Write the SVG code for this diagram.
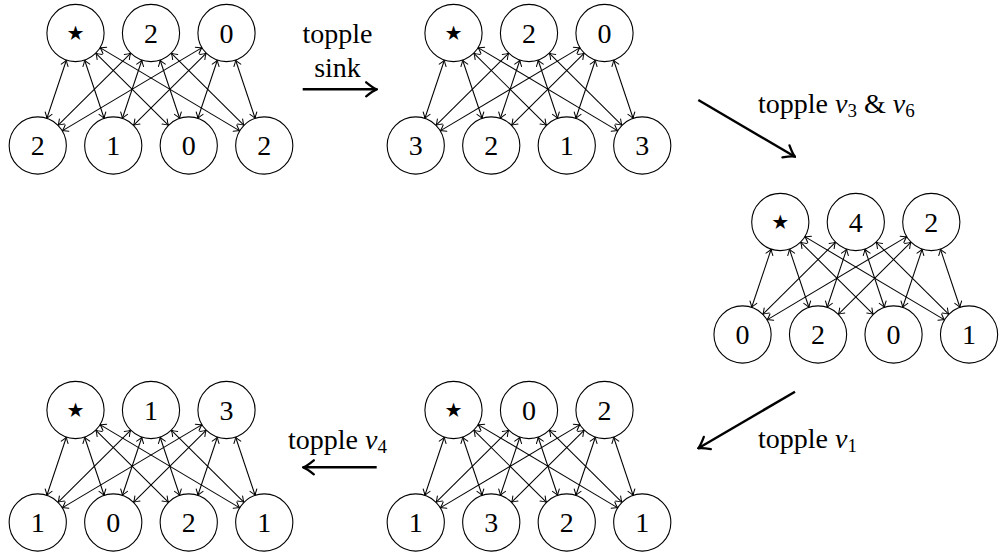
<svg xmlns="http://www.w3.org/2000/svg" xmlns:xlink="http://www.w3.org/1999/xlink" width="1004" height="557" viewBox="0 0 1004 557">
<style>
.node circle{fill:#fff;stroke:#000;stroke-width:1.1}
.node text{font-family:"Liberation Serif",serif;font-size:28px;text-anchor:middle}
.node text.star{font-family:"DejaVu Sans",sans-serif;font-size:40px}
.edge{stroke:#000;stroke-width:1.05;fill:none;marker-start:url(#a);marker-end:url(#a)}
.big{stroke:#000;stroke-width:2.4;fill:none;marker-end:url(#b)}
.lbl{font-family:"Liberation Serif",serif;font-size:28px}
.sub{font-size:19px}
.it{font-style:italic}
</style>
<defs>
<marker id="a" viewBox="-7 -5 8 10" refX="0" refY="0" markerWidth="8" markerHeight="10" markerUnits="userSpaceOnUse" orient="auto-start-reverse">
<path d="M-5.6,-3.6 Q-1.9,-0.7 0,0 Q-1.9,0.7 -5.6,3.6" fill="none" stroke="#000" stroke-width="1" stroke-linecap="round"/>
</marker>
<marker id="b" viewBox="-13 -9 14 18" refX="0" refY="0" markerWidth="14" markerHeight="18" markerUnits="userSpaceOnUse" orient="auto">
<path d="M-10.5,-7 Q-3.6,-1.3 0,0 Q-3.6,1.3 -10.5,7" fill="none" stroke="#000" stroke-width="2.3" stroke-linecap="round"/>
</marker>
<g id="k34">
<line class="edge" x1="66.43" y1="60.02" x2="46.82" y2="118.48"/>
<line class="edge" x1="84.57" y1="60.02" x2="104.18" y2="118.48"/>
<line class="edge" x1="95.72" y1="53.09" x2="168.53" y2="125.41"/>
<line class="edge" x1="99.98" y1="47.59" x2="239.77" y2="130.91"/>
<line class="edge" x1="130.78" y1="53.09" x2="57.97" y2="125.41"/>
<line class="edge" x1="141.93" y1="60.02" x2="122.32" y2="118.48"/>
<line class="edge" x1="160.07" y1="60.02" x2="179.68" y2="118.48"/>
<line class="edge" x1="171.22" y1="53.09" x2="244.03" y2="125.41"/>
<line class="edge" x1="202.02" y1="47.59" x2="62.23" y2="130.91"/>
<line class="edge" x1="206.28" y1="53.09" x2="133.47" y2="125.41"/>
<line class="edge" x1="217.43" y1="60.02" x2="197.82" y2="118.48"/>
<line class="edge" x1="235.57" y1="60.02" x2="255.18" y2="118.48"/>
</g>
</defs>

<g id="connectors">
<use xlink:href="#k34" href="#k34"/>
<use xlink:href="#k34" href="#k34" transform="translate(378,0)"/>
<use xlink:href="#k34" href="#k34" transform="translate(704.8,189)"/>
<use xlink:href="#k34" href="#k34" transform="translate(378,377)"/>
<use xlink:href="#k34" href="#k34" transform="translate(0,377)"/>
<line class="big" x1="302.7" y1="89.3" x2="376.7" y2="89.3"/>
<line class="big" x1="698.3" y1="100" x2="795" y2="156.7"/>
<line class="big" x1="795" y1="391.7" x2="698.3" y2="448.3"/>
<line class="big" x1="376.7" y1="467.3" x2="303.3" y2="467.3"/>
</g>

<g id="labels" class="lbl">
<text x="337.5" y="42.7" text-anchor="middle">topple</text>
<text x="337.5" y="76.7" text-anchor="middle">sink</text>
<text x="758" y="113">topple <tspan class="it">v</tspan><tspan class="sub" dy="4">3</tspan><tspan dy="-4"> &amp; </tspan><tspan class="it">v</tspan><tspan class="sub" dy="4">6</tspan></text>
<text x="758" y="448">topple <tspan class="it">v</tspan><tspan class="sub" dy="4">1</tspan></text>
<text x="288" y="449">topple <tspan class="it">v</tspan><tspan class="sub" dy="4">4</tspan></text>
</g>

<g id="graph1">
<g id="g1-sink" class="node"><circle cx="75.5" cy="33" r="28.6"/><text class="star" x="75.5" y="46">⋆</text></g>
<g id="g1-t1" class="node"><circle cx="151" cy="33" r="28.6"/><text x="151" y="42.5">2</text></g>
<g id="g1-t2" class="node"><circle cx="226.5" cy="33" r="28.6"/><text x="226.5" y="42.5">0</text></g>
<g id="g1-b0" class="node"><circle cx="37.75" cy="145.5" r="28.6"/><text x="37.75" y="155">2</text></g>
<g id="g1-b1" class="node"><circle cx="113.25" cy="145.5" r="28.6"/><text x="113.25" y="155">1</text></g>
<g id="g1-b2" class="node"><circle cx="188.75" cy="145.5" r="28.6"/><text x="188.75" y="155">0</text></g>
<g id="g1-b3" class="node"><circle cx="264.25" cy="145.5" r="28.6"/><text x="264.25" y="155">2</text></g>
</g>

<g id="graph2" transform="translate(378,0)">
<g id="g2-sink" class="node"><circle cx="75.5" cy="33" r="28.6"/><text class="star" x="75.5" y="46">⋆</text></g>
<g id="g2-t1" class="node"><circle cx="151" cy="33" r="28.6"/><text x="151" y="42.5">2</text></g>
<g id="g2-t2" class="node"><circle cx="226.5" cy="33" r="28.6"/><text x="226.5" y="42.5">0</text></g>
<g id="g2-b0" class="node"><circle cx="37.75" cy="145.5" r="28.6"/><text x="37.75" y="155">3</text></g>
<g id="g2-b1" class="node"><circle cx="113.25" cy="145.5" r="28.6"/><text x="113.25" y="155">2</text></g>
<g id="g2-b2" class="node"><circle cx="188.75" cy="145.5" r="28.6"/><text x="188.75" y="155">1</text></g>
<g id="g2-b3" class="node"><circle cx="264.25" cy="145.5" r="28.6"/><text x="264.25" y="155">3</text></g>
</g>

<g id="graph3" transform="translate(704.8,189)">
<g id="g3-sink" class="node"><circle cx="75.5" cy="33" r="28.6"/><text class="star" x="75.5" y="46">⋆</text></g>
<g id="g3-t1" class="node"><circle cx="151" cy="33" r="28.6"/><text x="151" y="42.5">4</text></g>
<g id="g3-t2" class="node"><circle cx="226.5" cy="33" r="28.6"/><text x="226.5" y="42.5">2</text></g>
<g id="g3-b0" class="node"><circle cx="37.75" cy="145.5" r="28.6"/><text x="37.75" y="155">0</text></g>
<g id="g3-b1" class="node"><circle cx="113.25" cy="145.5" r="28.6"/><text x="113.25" y="155">2</text></g>
<g id="g3-b2" class="node"><circle cx="188.75" cy="145.5" r="28.6"/><text x="188.75" y="155">0</text></g>
<g id="g3-b3" class="node"><circle cx="264.25" cy="145.5" r="28.6"/><text x="264.25" y="155">1</text></g>
</g>

<g id="graph4" transform="translate(378,377)">
<g id="g4-sink" class="node"><circle cx="75.5" cy="33" r="28.6"/><text class="star" x="75.5" y="46">⋆</text></g>
<g id="g4-t1" class="node"><circle cx="151" cy="33" r="28.6"/><text x="151" y="42.5">0</text></g>
<g id="g4-t2" class="node"><circle cx="226.5" cy="33" r="28.6"/><text x="226.5" y="42.5">2</text></g>
<g id="g4-b0" class="node"><circle cx="37.75" cy="145.5" r="28.6"/><text x="37.75" y="155">1</text></g>
<g id="g4-b1" class="node"><circle cx="113.25" cy="145.5" r="28.6"/><text x="113.25" y="155">3</text></g>
<g id="g4-b2" class="node"><circle cx="188.75" cy="145.5" r="28.6"/><text x="188.75" y="155">2</text></g>
<g id="g4-b3" class="node"><circle cx="264.25" cy="145.5" r="28.6"/><text x="264.25" y="155">1</text></g>
</g>

<g id="graph5" transform="translate(0,377)">
<g id="g5-sink" class="node"><circle cx="75.5" cy="33" r="28.6"/><text class="star" x="75.5" y="46">⋆</text></g>
<g id="g5-t1" class="node"><circle cx="151" cy="33" r="28.6"/><text x="151" y="42.5">1</text></g>
<g id="g5-t2" class="node"><circle cx="226.5" cy="33" r="28.6"/><text x="226.5" y="42.5">3</text></g>
<g id="g5-b0" class="node"><circle cx="37.75" cy="145.5" r="28.6"/><text x="37.75" y="155">1</text></g>
<g id="g5-b1" class="node"><circle cx="113.25" cy="145.5" r="28.6"/><text x="113.25" y="155">0</text></g>
<g id="g5-b2" class="node"><circle cx="188.75" cy="145.5" r="28.6"/><text x="188.75" y="155">2</text></g>
<g id="g5-b3" class="node"><circle cx="264.25" cy="145.5" r="28.6"/><text x="264.25" y="155">1</text></g>
</g>
</svg>
